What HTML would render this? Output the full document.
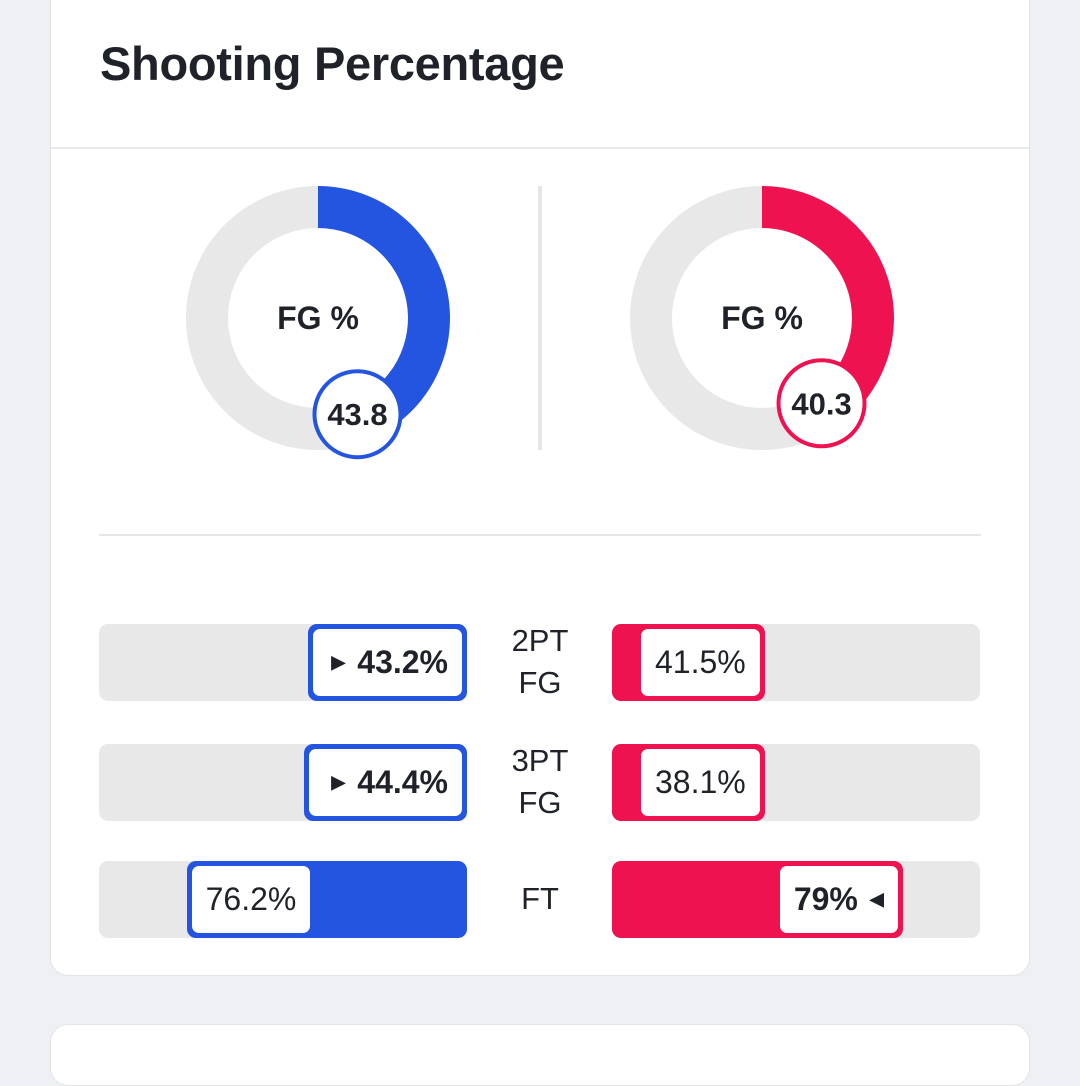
<!DOCTYPE html>
<html><head><meta charset="utf-8"><style>
html,body{margin:0;padding:0;background:#eef0f4;width:1080px;height:1034px;overflow:hidden;font-family:"Liberation Sans",sans-serif;color:#1f2329}
.card{position:absolute;left:50px;top:-20px;width:978px;height:994px;background:#fff;border:1px solid #e2e4e8;border-radius:18px}
.card2{position:absolute;left:50px;top:1024px;width:978px;height:60px;background:#fff;border:1px solid #e2e4e8;border-radius:18px}
.title{position:absolute;left:100px;top:36px;font-size:47px;font-weight:bold;letter-spacing:-0.3px}
.hline{position:absolute;left:51px;top:147px;width:978px;height:2px;background:#e8e9ec}
.vdiv{position:absolute;left:538px;top:186px;width:4px;height:264px;background:#e6e6e6}
.hdiv{position:absolute;left:99px;top:534px;width:882px;height:2px;background:#e6e6e6}
.track{position:absolute;height:77px;width:368px;background:#e8e8e8;border-radius:9px}
.bar{position:absolute;top:0;height:77px;border-radius:9px;box-sizing:border-box;padding:5px;display:flex}
.lbl{background:#fff;border-radius:7px;height:67px;box-sizing:border-box;display:flex;align-items:center;font-size:32px;white-space:nowrap;padding:0 14px}
.cat{position:absolute;left:490px;width:100px;text-align:center;font-size:31px;line-height:42px}
</style></head><body>
<div class="card"></div>
<div class="card2"></div>
<div class="title">Shooting Percentage</div>
<div class="hline"></div>
<svg id="donuts" width="1080" height="520" style="position:absolute;left:0;top:0"></svg>
<div class="vdiv"></div>
<div class="hdiv"></div>
<div id="bars"></div>
<script>
const teamColors=["#2455e0","#ee1250"];
const fgValues=[43.8,40.3];
const categories=["2PT FG","3PT FG","FT"];
const leftValues=[43.2,44.4,76.2];
const rightValues=[41.5,38.1,79];
const rightLabels=["41.5%","38.1%","79%"];
const leftLabels=["43.2%","44.4%","76.2%"];

const NS="http://www.w3.org/2000/svg";
const svg=document.getElementById('donuts');
const centers=[318,762], cy=318, R=132, r=90;
function ang(v){return v/100*2*Math.PI;}
function pt(cx,rad,a){return [cx+rad*Math.sin(a),cy-rad*Math.cos(a)];}
fgValues.forEach((v,i)=>{
  const cx=centers[i];
  const bg=document.createElementNS(NS,'circle');
  
  
  bg.setAttribute('cx',cx);bg.setAttribute('cy',cy);bg.setAttribute('r',(R+r)/2);
  bg.setAttribute('fill','none');bg.setAttribute('stroke','#e8e8e8');bg.setAttribute('stroke-width',R-r);
  svg.appendChild(bg);
  const a=ang(v);const large=a>Math.PI?1:0;
  const p1=pt(cx,R,0),p2=pt(cx,R,a),p3=pt(cx,r,a),p4=pt(cx,r,0);
  const path=document.createElementNS(NS,'path');
  
  
  path.setAttribute('d',`M${p1[0]},${p1[1]} A${R},${R} 0 ${large} 1 ${p2[0]},${p2[1]} L${p3[0]},${p3[1]} A${r},${r} 0 ${large} 0 ${p4[0]},${p4[1]} Z`);
  path.setAttribute('fill',teamColors[i]);
  svg.appendChild(path);
  const t=document.createElementNS(NS,'text');
  
  
  t.setAttribute('x',cx);t.setAttribute('y',cy+11);t.setAttribute('text-anchor','middle');
  t.setAttribute('font-size','32');t.setAttribute('font-weight','bold');t.setAttribute('fill','#1f2329');
  t.setAttribute('font-family','Liberation Sans, sans-serif');
  t.textContent='FG %';svg.appendChild(t);
  const bp=pt(cx,104,a);
  const c=document.createElementNS(NS,'circle');
  
  
  c.setAttribute('cx',bp[0]);c.setAttribute('cy',bp[1]);c.setAttribute('r',43);
  c.setAttribute('fill','#fff');c.setAttribute('stroke',teamColors[i]);c.setAttribute('stroke-width',4);
  svg.appendChild(c);
  const vt=document.createElementNS(NS,'text');
  
  
  vt.setAttribute('x',bp[0]);vt.setAttribute('y',bp[1]+11);vt.setAttribute('text-anchor','middle');
  vt.setAttribute('font-size','31');vt.setAttribute('font-weight','bold');vt.setAttribute('fill','#1f2329');
  vt.setAttribute('font-family','Liberation Sans, sans-serif');
  vt.textContent=v.toFixed(1);svg.appendChild(vt);
});

const bars=document.getElementById('bars');
const rowTops=[624,744,861];
const W=368;
function x(v){return v/100*W;}
categories.forEach((cat,i)=>{
  const top=rowTops[i];
  const lw=leftValues[i]>rightValues[i];
  // left track
  const lt=document.createElement('div');lt.className='track';
  
  
  lt.style.left='99px';lt.style.top=top+'px';
  const lb=document.createElement('div');lb.className='bar';
  
  
  lb.style.right='0';lb.style.width=x(leftValues[i])+'px';lb.style.minWidth='max-content';
  lb.style.background=teamColors[0];lb.style.justifyContent='flex-start';
  const ll=document.createElement('div');ll.className='lbl';
  
  
  if(lw){ll.style.fontWeight='bold';ll.style.flex='1';ll.style.justifyContent='flex-end';ll.innerHTML='<span style="font-size:18px;margin-right:12px">&#9654;</span>'+leftLabels[i];}
  else ll.textContent=leftLabels[i];
  lb.appendChild(ll);lt.appendChild(lb);bars.appendChild(lt);
  // right track
  const rt=document.createElement('div');rt.className='track';
  
  
  rt.style.left='612px';rt.style.top=top+'px';
  const rb=document.createElement('div');rb.className='bar';
  
  
  rb.style.left='0';rb.style.width=x(rightValues[i])+'px';rb.style.minWidth='max-content';
  rb.style.background=teamColors[1];rb.style.justifyContent='flex-end';
  const rl=document.createElement('div');rl.className='lbl';
  
  
  if(!lw){rl.style.fontWeight='bold';rl.innerHTML=rightLabels[i]+'<span style="font-size:18px;margin-left:12px">&#9664;</span>';}
  else {rl.textContent=rightLabels[i];rl.style.marginLeft='24px';}
  rb.appendChild(rl);rt.appendChild(rb);bars.appendChild(rt);
  // category
  const c=document.createElement('div');c.className='cat';
  
  
  const parts=cat.split(' ');
  c.innerHTML=parts.join('<br>');
  c.style.top=(top+38-parts.length*21)+'px';
  bars.appendChild(c);
});
</script>
</body></html>
